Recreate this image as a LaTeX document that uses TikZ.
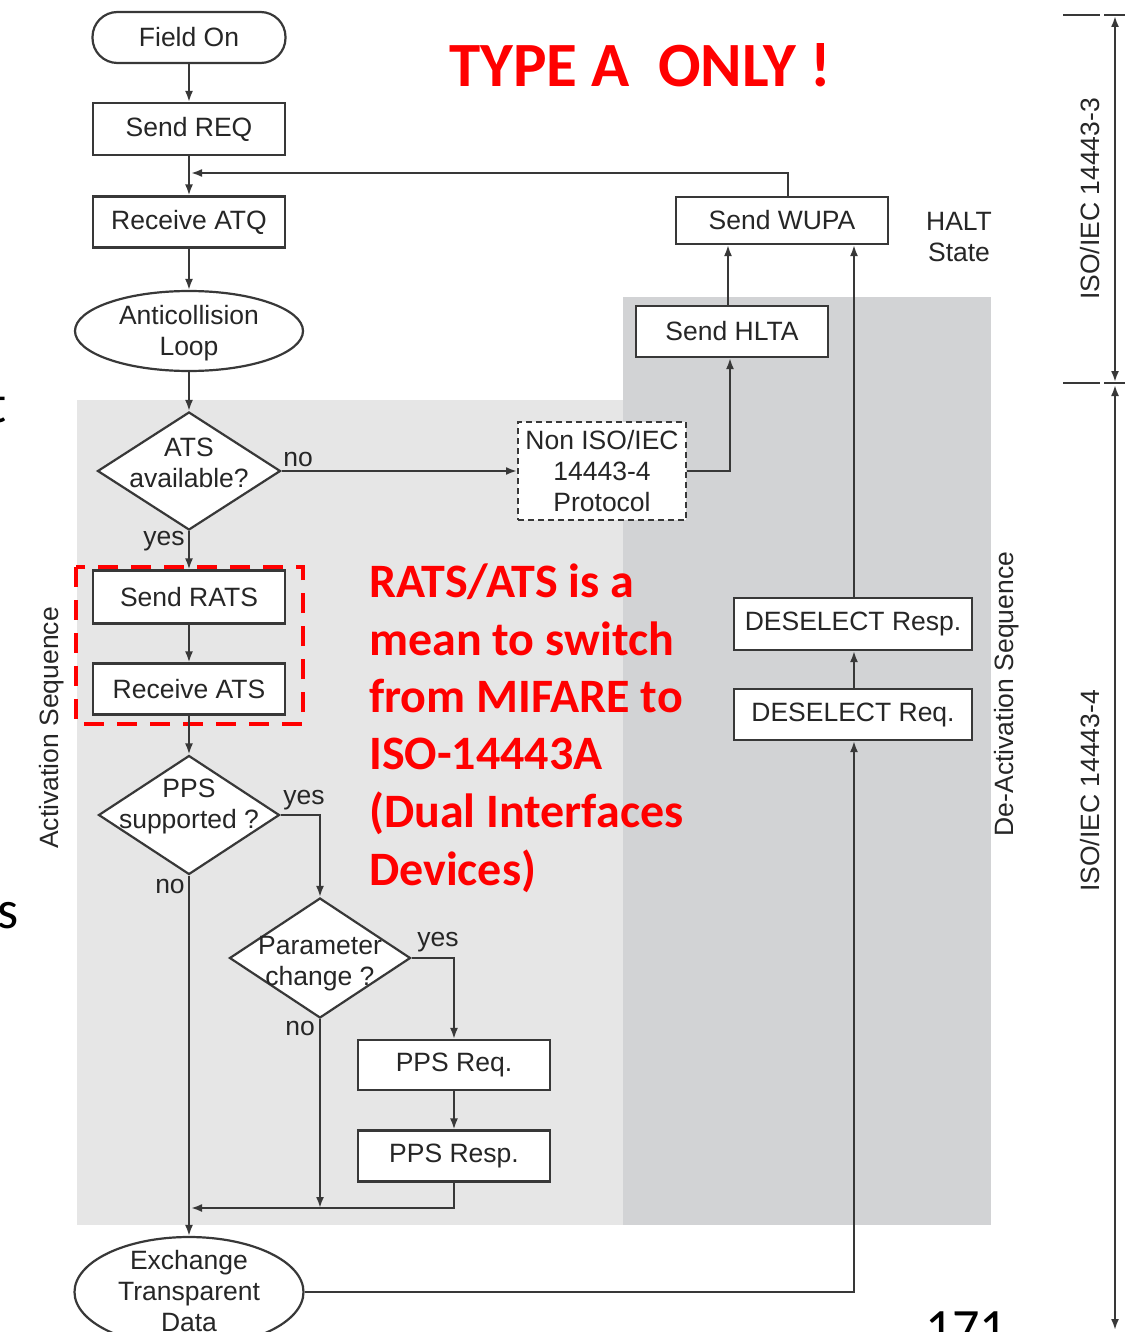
\documentclass[tikz,border=0pt]{standalone}
\usepackage{fontspec}
\setmainfont{Liberation Sans}
\newfontfamily\calibrifam{Carlito}
\usetikzlibrary{shapes.geometric,arrows.meta}
\definecolor{lg}{HTML}{E6E6E6}
\definecolor{dg}{HTML}{D2D3D5}
\definecolor{ln}{HTML}{383838}
\definecolor{tx}{HTML}{262626}
\definecolor{rd}{HTML}{FF0000}
\newcommand\dfont{\fontsize{26.5}{31}\selectfont}
\newcommand\redfont{\calibrifam\bfseries\fontsize{48}{57}\selectfont}
\newcommand\titlefont{\calibrifam\bfseries\fontsize{63}{70}\selectfont}
\newcommand\slidefont{\calibrifam\fontsize{54}{60}\selectfont}
\begin{document}
\begin{tikzpicture}[x=1pt,y=-1pt,
  >={Latex[length=11pt,width=8pt]},
  line/.style={draw=ln,line width=2pt},
  arr/.style={line,->},
  box/.style={draw=ln,line width=2.2pt,fill=white,inner sep=0pt,font=\dfont,text=tx,align=center},
  shp/.style={draw=ln,line width=2.2pt,fill=white,inner sep=0pt},
  txt/.style={font=\dfont,text=tx,align=center,inner sep=0pt},
  lbl/.style={font=\dfont,text=tx,inner sep=0pt},
  redt/.style={font=\redfont,text=rd,anchor=base west,inner sep=0pt},
  frag/.style={font=\slidefont,text=black,anchor=base west,inner sep=0pt}
]
\useasboundingbox (0,0) rectangle (1130,1332);
\fill[white] (0,0) rectangle (1130,1332);
\fill[lg] (77,400) rectangle (625,1225);
\fill[dg] (623,297) rectangle (991,1225);

% left column
\node[box,rounded corners=25pt,minimum width=193pt,minimum height=51pt] (field) at (189,37.5) {Field On};
\node[box,minimum width=192pt,minimum height=52pt] (req) at (189,129) {Send REQ};
\node[box,minimum width=192pt,minimum height=51pt] (atq) at (189,222) {Receive ATQ};
\node[shp,ellipse,minimum width=228pt,minimum height=80pt] (anti) at (189,331) {};
\node[txt] (antiT) at ([yshift=-2pt]anti.center) {Anticollision\\Loop};
\node[shp,diamond,minimum width=183pt,minimum height=118pt] (ats) at (189,471) {};
\node[txt] (atsT) at ([yshift=8pt]ats.center) {ATS\\available?};
\node[box,minimum width=192pt,minimum height=53pt] (rats) at (189,597) {Send RATS};
\node[box,minimum width=192pt,minimum height=51pt] (ratsr) at (189,689) {Receive ATS};
\node[shp,diamond,minimum width=181pt,minimum height=119pt] (pps) at (189,815) {};
\node[txt] (ppsT) at ([yshift=9pt]pps.center) {PPS\\supported ?};
\node[shp,diamond,minimum width=181pt,minimum height=120pt] (par) at (320,958) {};
\node[txt] (parT) at ([yshift=-6pt]par.center) {Parameter\\change ?};
\node[box,minimum width=192pt,minimum height=50pt] (preq) at (454,1065) {PPS Req.};
\node[box,minimum width=192pt,minimum height=51pt] (presp) at (454,1156) {PPS Resp.};
\node[shp,ellipse,minimum width=229pt,minimum height=110pt] (exch) at (189,1292) {};
\node[txt] (exchT) at ([yshift=1pt]exch.center) {Exchange\\Transparent\\Data};

% right column
\node[box,minimum width=212pt,minimum height=47pt] (wupa) at (782,220.5) {Send WUPA};
\node[box,minimum width=192pt,minimum height=51pt] (hlta) at (732,331.5) {Send HLTA};
\node[box,dash pattern=on 6pt off 4pt,line width=2pt,minimum width=168pt,minimum height=98pt] (non) at (602,471) {Non ISO/IEC\\14443-4\\Protocol};
\node[box,minimum width=238pt,minimum height=52pt] (dresp) at (853,624) {DESELECT Resp.};
\node[box,minimum width=238pt,minimum height=51pt] (dreq) at (853,714.5) {DESELECT Req.};

% red dashed frame
\draw[rd,line width=4pt,dash pattern=on 20pt off 13pt] (76,567) rectangle (303,724);

% connectors
\coordinate (j1) at (191,173);
\coordinate (j2) at (191,1208);
\draw[arr] (field) -- (req);
\draw[arr] (req) -- (atq);
\draw[arr] ([xshift=6pt]wupa.north) |- (j1);
\draw[arr] (atq) -- (anti);
\draw[arr] (anti) -- (ats);
\draw[arr] (ats.east) -- (non.west);
\draw[arr] (ats.south) -- (rats.north);
\draw[arr] (rats) -- (ratsr);
\draw[arr] (ratsr) -- (pps);
\draw[arr] (pps.east) -| (par.north);
\draw[arr] (pps.south) -- (exch.north);
\draw[arr] (par.east) -| (preq.north);
\draw[arr] (par.south) -- (par.south |- j2);
\draw[arr] (preq) -- (presp);
\draw[arr] (presp.south) |- (j2);
\draw[arr] (non.east) -| ([xshift=-2pt]hlta.south);
\draw[arr] ([xshift=-4pt]hlta.north) -- ([xshift=-4pt]hlta.north |- wupa.south);
\draw[arr] ([xshift=1pt]dresp.north) -- ([xshift=1pt]dresp.north |- wupa.south);
\draw[arr] ([xshift=1pt]dreq.north) -- ([xshift=1pt]dresp.south);
\draw[arr] (exch.east) -| ([xshift=1pt]dreq.south);

% branch labels
\node[lbl] (l1) at (298,459) {no};
\node[lbl] (l2) at (164,541) {yes};
\node[lbl] (l3) at (304,800) {yes};
\node[lbl] (l4) at (170,886) {no};
\node[lbl] (l5) at (438,942) {yes};
\node[lbl] (l6) at (300,1028) {no};
\node[txt] (halt) at (959,237) {HALT\\State};

% rotated labels
\node[lbl,rotate=90] (act) at (52,728) {Activation Sequence};
\node[lbl,rotate=90] (deact) at (1007,694) {De-Activation Sequence};
\node[lbl,rotate=90] (iso3) at (1090,199) {ISO/IEC 14443-3};
\node[lbl,rotate=90] (iso4) at (1090,791) {ISO/IEC 14443-4};

% dimension lines
\draw[line,<->] (1115,16) -- (1115,382);
\draw[line,<->] (1115,385) -- (1115,1330);
\draw[line] (1063,15) -- (1100,15) (1104,15) -- (1125,15);
\draw[line] (1063,383) -- (1100,383) (1104,383) -- (1125,383);

% red annotations
\node[font=\titlefont,text=rd,anchor=base,inner sep=0pt] (title) at (640,87) {TYPE A\hspace{0.45em}ONLY !};
\node[redt] (r1) at (369,597) {RATS/ATS is a};
\node[redt] (r2) at (369,655) {mean to switch};
\node[redt] (r3) at (369,712) {from MIFARE to};
\node[redt] (r4) at (369,769) {ISO-14443A};
\node[redt] (r5) at (369,827) {(Dual Interfaces};
\node[redt] (r6) at (369,885) {Devices)};

% slide fragments
\node[frag] (f1) at (-12,422) {t};
\node[frag] (f2) at (-3,928) {s};
\node[frag] (f3) at (925,1346) {171};
\end{tikzpicture}
\end{document}
